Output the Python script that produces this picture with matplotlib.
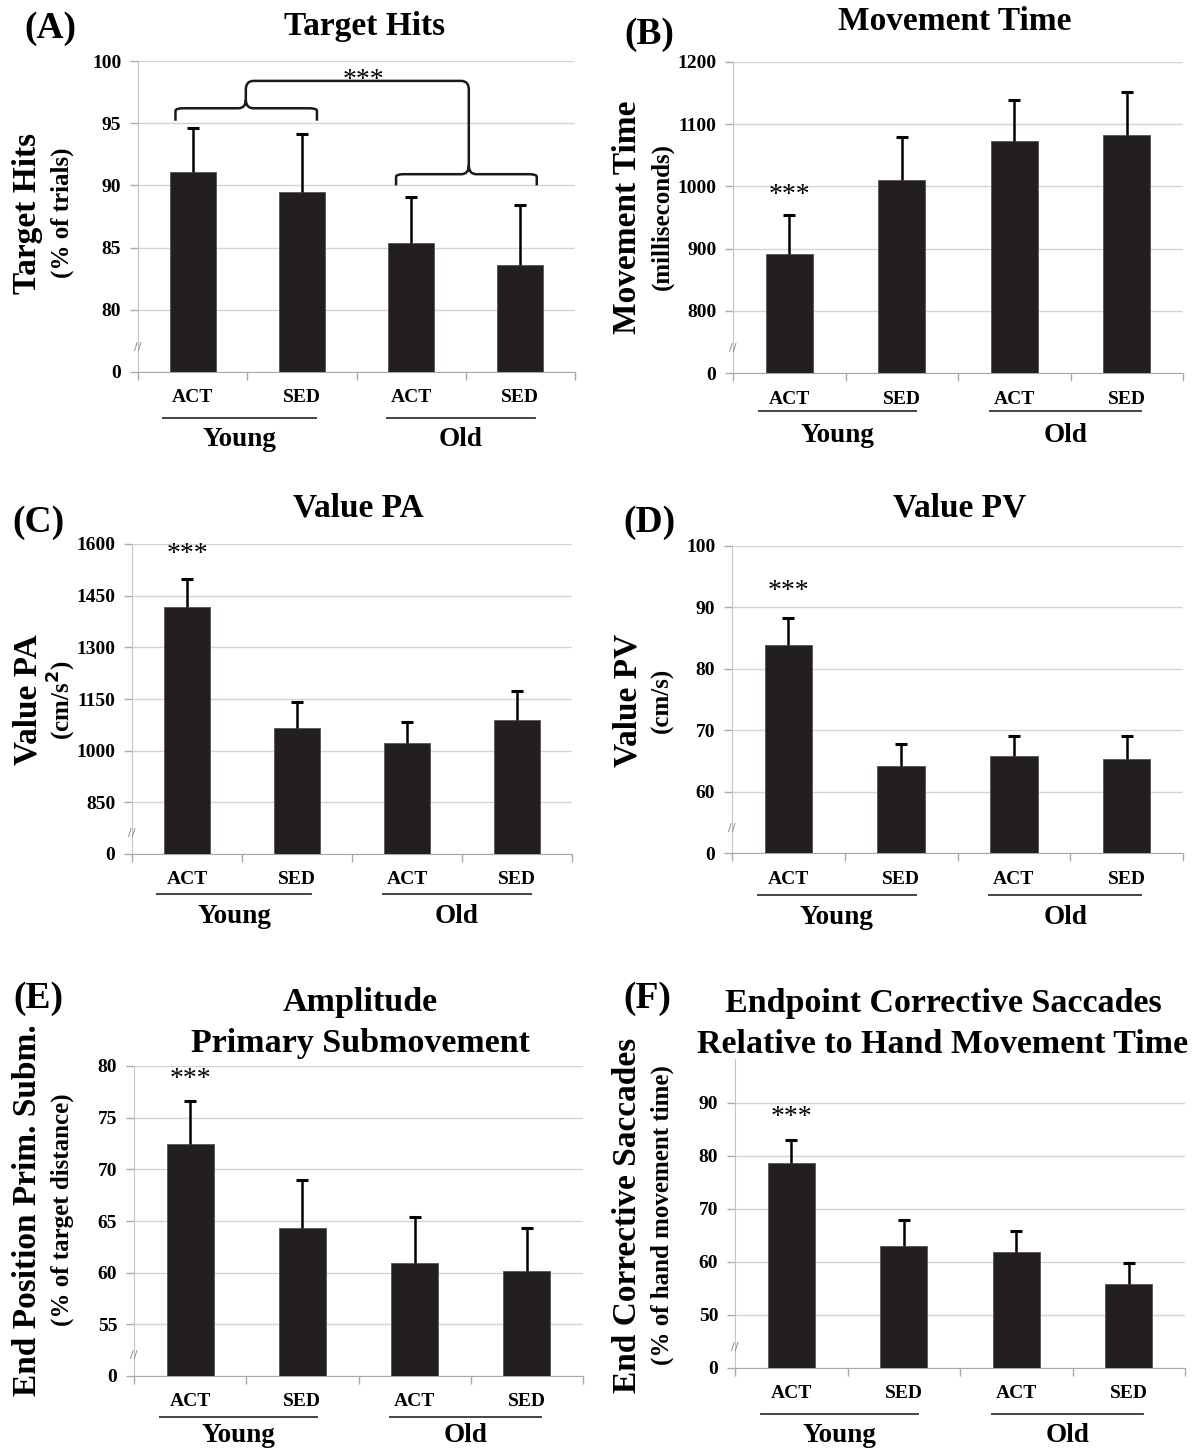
import matplotlib
matplotlib.use("Agg")
import matplotlib.pyplot as plt
from matplotlib.path import Path
from matplotlib.patches import PathPatch
from matplotlib import transforms

plt.rcParams['font.family'] = ['Liberation Serif', 'DejaVu Serif']
plt.rcParams['font.weight'] = 'bold'

W, H = 1198, 1449

categories = ['ACT', 'SED', 'ACT', 'SED']
groups = ['Young', 'Old']

# (A) target hits
hits = [91.1, 89.5, 85.4, 83.6]
hits_err = [3.5, 4.6, 3.7, 4.8]
hits_ticks = [0, 80, 85, 90, 95, 100]

# (B) movement time
mtime = [891, 1011, 1073, 1082]
mtime_err = [63, 68, 66, 69]
mtime_ticks = [0, 800, 900, 1000, 1100, 1200]

# (C) value PA
pa = [1416, 1067, 1021, 1090]
pa_err = [83, 73, 63, 84]
pa_ticks = [0, 850, 1000, 1150, 1300, 1450, 1600]

# (D) value PV
pv = [83.8, 64.1, 65.8, 65.3]
pv_err = [4.5, 3.6, 3.3, 3.7]
pv_ticks = [0, 60, 70, 80, 90, 100]

# (E) amplitude primary submovement
amp = [72.5, 64.3, 60.9, 60.2]
amp_err = [4.1, 4.7, 4.5, 4.1]
amp_ticks = [0, 55, 60, 65, 70, 75, 80]

# (F) endpoint corrective saccades
ecs = [78.6, 63.1, 61.9, 55.9]
ecs_err = [4.4, 4.8, 4.0, 3.9]
ecs_ticks = [0, 50, 60, 70, 80, 90]

BAR = '#231f20'
fig = plt.figure(figsize=(W / 100, H / 100), dpi=100)


def draw_panel(box, vals, errs, ticks, top, star_y=None, offs=(26, 44, 65)):
    left, right, ytop, ybot = box
    ax = fig.add_axes([left / W, 1 - ybot / H, (right - left) / W, (ybot - ytop) / H])
    step = ticks[2] - ticks[1]
    base = ticks[1] - step
    x = list(range(len(vals)))
    heights = [v - base for v in vals]
    ax.bar(x, heights, width=0.42, color=BAR, edgecolor='#555555', linewidth=0.6, zorder=3)
    eb = ax.errorbar(x, heights, yerr=[[0] * len(errs), errs], fmt='none', ecolor='black',
                     elinewidth=1.8, capsize=4, capthick=2.2, zorder=4)
    # only the upper cap is shown
    eb[1][0].set_visible(False)
    ax.set_xlim(-0.5, len(vals) - 0.5)
    ax.set_ylim(0, top - base)
    ax.set_yticks([0] + [t - base for t in ticks[1:]])
    ax.set_yticklabels([str(t) for t in ticks], fontsize=14, fontweight='bold')
    ax.set_xticks([i - 0.5 for i in range(len(vals) + 1)])
    ax.set_xticklabels([])
    ax.tick_params(axis='both', direction='out', length=6, color='#aaaaaa', width=1)
    ax.tick_params(axis='y', pad=6)
    ax.yaxis.grid(True, color='#d4d4d4', linewidth=1, zorder=0)
    ax.set_axisbelow(True)
    for s in ['top', 'right']:
        ax.spines[s].set_visible(False)
    ax.spines['left'].set_color('#c4c4c4')
    ax.spines['bottom'].set_color('#a8a8a8')
    # axis break mark
    ax.text(-0.5, step * 0.4, '//', fontsize=8, color='#888888', ha='center', va='center',
            family='DejaVu Sans', fontweight='normal', zorder=5)
    if star_y is not None:
        ax.text(0, star_y - base, '***', fontsize=20, fontweight='normal', ha='center', va='center')
    xt = ax.get_xaxis_transform()
    for i, c in enumerate(categories):
        ax.annotate(c, xy=(i, 0), xycoords=xt, xytext=(0, -offs[0] * 0.72),
                    textcoords='offset points', ha='center', va='center', fontsize=14,
                    fontweight='bold', annotation_clip=False)
    line_tr = transforms.offset_copy(xt, fig=fig, y=-offs[1], units='dots')
    for g, (x0, x1) in enumerate([(-0.27, 1.13), (1.78, 3.13)]):
        ax.plot([x0, x1], [0, 0], color='#444444', lw=1.4, transform=line_tr, clip_on=False)
        ax.annotate(groups[g], xy=((x0 + x1) / 2, 0), xycoords=xt, xytext=(0, -offs[2] * 0.72),
                    textcoords='offset points', ha='center', va='center', fontsize=19.5,
                    fontweight='bold', annotation_clip=False)
    return ax, base


def brace_path(x0, x1, xc, yend, yh, rx, ry):
    verts = [(x0, yend), (x0, yh - ry * 0.3), (x0, yh), (x0 + rx, yh),
             (xc - rx, yh), (xc, yh), (xc, yh + ry),
             (xc, yh), (xc + rx, yh), (x1 - rx, yh), (x1, yh), (x1, yh - ry * 0.3), (x1, yend)]
    codes = [Path.MOVETO, Path.LINETO, Path.CURVE3, Path.CURVE3,
             Path.LINETO, Path.CURVE3, Path.CURVE3,
             Path.CURVE3, Path.CURVE3, Path.LINETO, Path.CURVE3, Path.CURVE3, Path.LINETO]
    return Path(verts, codes)


def label(xpx, ypx, big, small, big_dx=34):
    fig.text(xpx / W, 1 - ypx / H, big, rotation=90, fontsize=24, fontweight='bold',
             ha='center', va='center')
    fig.text((xpx + big_dx) / W, 1 - ypx / H, small, rotation=90, fontsize=18,
             fontweight='bold', ha='center', va='center')


# --- (A)
axA, bA = draw_panel((138, 575, 61, 372), hits, hits_err, hits_ticks, 100, offs=(26, 46, 68))
rx, ry = 0.07, 0.7
for p in [brace_path(-0.157, 1.138, 0.487, 95.2 - bA, 96.2 - bA, rx, ry),
          brace_path(1.862, 3.15, 2.528, 90.0 - bA, 90.9 - bA, rx, ry)]:
    axA.add_patch(PathPatch(p, fill=False, lw=1.8, color='#1a1a1a', zorder=5, clip_on=False))
ytop = 98.4 - bA
stem = Path([(0.487, 96.2 - bA + ry), (0.487, ytop - ry), (0.487, ytop), (0.487 + rx, ytop),
             (2.528 - rx, ytop), (2.528, ytop), (2.528, ytop - ry), (2.528, 90.9 - bA + ry)],
            [Path.MOVETO, Path.LINETO, Path.CURVE3, Path.CURVE3,
             Path.LINETO, Path.CURVE3, Path.CURVE3, Path.LINETO])
axA.add_patch(PathPatch(stem, fill=False, lw=1.8, color='#1a1a1a', zorder=5, clip_on=False))
axA.text(1.565, 98.4 - bA, '***', fontsize=20, fontweight='normal', ha='center', va='center', zorder=6)
label(28, 213, 'Target Hits', '(% of trials)')
fig.text(50 / W, 1 - 28 / H, '(A)', fontsize=27, fontweight='bold', ha='center', va='center')
fig.text(365 / W, 1 - 26 / H, 'Target Hits', fontsize=24, fontweight='bold', ha='center', va='center')

# --- (B)
draw_panel((733, 1183, 62, 373), mtime, mtime_err, mtime_ticks, 1200, star_y=986, offs=(26, 38, 62))
label(628, 217, 'Movement Time', '(milliseconds)')
fig.text(649 / W, 1 - 35 / H, '(B)', fontsize=27, fontweight='bold', ha='center', va='center')
fig.text(955 / W, 1 - 21 / H, 'Movement Time', fontsize=24, fontweight='bold', ha='center', va='center')

# --- (C)
draw_panel((132, 572, 544, 854), pa, pa_err, pa_ticks, 1600, star_y=1569, offs=(26, 40, 63))
label(28, 700, 'Value PA', '(cm/s$^\\mathbf{2}$)')
fig.text(38 / W, 1 - 522 / H, '(C)', fontsize=27, fontweight='bold', ha='center', va='center')
fig.text(358 / W, 1 - 508 / H, 'Value PA', fontsize=24, fontweight='bold', ha='center', va='center')

# --- (D)
draw_panel((732, 1183, 546, 853), pv, pv_err, pv_ticks, 100, star_y=92.6, offs=(26, 42, 64))
label(628, 700, 'Value PV', '(cm/s)')
fig.text(649 / W, 1 - 522 / H, '(D)', fontsize=27, fontweight='bold', ha='center', va='center')
fig.text(960 / W, 1 - 508 / H, 'Value PV', fontsize=24, fontweight='bold', ha='center', va='center')

# --- (E)
draw_panel((134, 583, 1066, 1376), amp, amp_err, amp_ticks, 80, star_y=78.7, offs=(26, 41, 59))
label(28, 1210, 'End Position Prim. Subm.', '(% of target distance)')
fig.text(38 / W, 1 - 998 / H, '(E)', fontsize=27, fontweight='bold', ha='center', va='center')
fig.text(360 / W, 1 - 1023 / H, 'Amplitude\nPrimary Submovement', fontsize=24.5, fontweight='bold',
         ha='center', va='center', linespacing=1.38)

# --- (F)
draw_panel((735, 1185, 1059, 1368), ecs, ecs_err, ecs_ticks, 98.3, star_y=87.2, offs=(26, 46, 67))
label(628, 1215, 'End Corrective Saccades', '(% of hand movement time)')
fig.text(647 / W, 1 - 998 / H, '(F)', fontsize=27, fontweight='bold', ha='center', va='center')
fig.text(943 / W, 1 - 1024 / H, 'Endpoint Corrective Saccades\nRelative to Hand Movement Time',
         fontsize=24.5, fontweight='bold', ha='center', va='center', linespacing=1.38)

fig.savefig('out.png', dpi=100)
